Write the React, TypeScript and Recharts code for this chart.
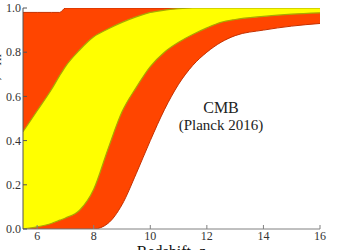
import React from 'react';
import { ComposedChart, Area, XAxis, YAxis, Customized } from 'recharts';

const zValues = [5.5, 6, 6.5, 6.8, 7, 7.5, 8, 8.5, 9, 9.5, 10, 10.5, 11, 11.5, 12, 12.5, 13, 14, 15, 16];
const redHigh = [0.98, 0.98, 0.98, 0.98, 1, 1, 1, 1, 1, 1, 1, 1, 1, 1, 1, 1, 1, 1, 1, 1];
const yellowHigh = [0.44, 0.535, 0.63, 0.695, 0.735, 0.81, 0.87, 0.905, 0.935, 0.96, 0.98, 0.99, 0.997, 1, 1, 1, 1, 1, 1, 1];
const yellowLow = [0, 0.01, 0.025, 0.04, 0.05, 0.085, 0.18, 0.36, 0.53, 0.64, 0.735, 0.8, 0.845, 0.88, 0.91, 0.935, 0.948, 0.962, 0.972, 0.978];
const redLow = [0, 0, 0, 0, 0, 0, 0, 0.025, 0.11, 0.25, 0.4, 0.54, 0.655, 0.74, 0.8, 0.845, 0.875, 0.9, 0.918, 0.93];

const xTicks = [6, 8, 10, 12, 14, 16];
const yTicks = [0, 0.2, 0.4, 0.6, 0.8, 1.0];
const annotationLines = ['CMB', '(Planck 2016)'];
const xLabel = 'Redshift, ';
const xLabelVar = 'z';
const yLabel = 'Neutral fraction, ';

const data = zValues.map((z, i) => ({
  z,
  red: [redLow[i], redHigh[i]],
  yellow: [yellowLow[i], yellowHigh[i]],
}));

const FONT = '"Liberation Serif", "Times New Roman", serif';
const AXIS = '#808080';
const TICK_TEXT = { fontSize: 12, fill: '#333', fontFamily: FONT };

const Overlay = () => (
  <g style={{ fontFamily: FONT }}>
    <text x={221} y={113} textAnchor="middle" fontSize={16} fill="#222" style={{ fontFamily: FONT }}>{annotationLines[0]}</text>
    <text x={221} y={130} textAnchor="middle" fontSize={15} fill="#222" style={{ fontFamily: FONT }}>{annotationLines[1]}</text>
    <text x={171} y={257} textAnchor="middle" fontSize={16} fill="#111" style={{ fontFamily: FONT }}>
      {xLabel}<tspan fontStyle="italic">{xLabelVar}</tspan>
    </text>
    <text x={-1} y={118} textAnchor="middle" fontSize={16} fill="#111" transform="rotate(-90 -1 118)" style={{ fontFamily: FONT }}>
      {yLabel}<tspan fontStyle="italic">x</tspan><tspan fontSize={11} dy={2}>HI</tspan>
    </text>
  </g>
);

const noTick = () => null;

export default function App() {
  return (
    <div style={{ position: 'absolute', left: 0, top: 0, width: 337, height: 250, background: '#fff', fontFamily: FONT }}>
      <ComposedChart width={337} height={250} data={data} margin={{ top: 8, right: 17, bottom: 0, left: 0 }}>
        <XAxis
          xAxisId="b"
          dataKey="z"
          type="number"
          domain={[5.5, 16]}
          ticks={xTicks}
          allowDataOverflow
          height={21}
          tickSize={-4}
          tickMargin={6}
          stroke={AXIS}
          tick={TICK_TEXT}
        />
        <XAxis
          xAxisId="t"
          orientation="top"
          dataKey="z"
          type="number"
          domain={[5.5, 16]}
          ticks={xTicks}
          allowDataOverflow
          height={0}
          tickSize={-4}
          stroke={AXIS}
          tick={noTick}
        />
        <YAxis
          yAxisId="l"
          type="number"
          domain={[0, 1]}
          ticks={yTicks}
          allowDataOverflow
          width={23}
          tickSize={-4}
          tickMargin={6}
          stroke="#555"
          tick={TICK_TEXT}
          tickFormatter={(v: number) => v.toFixed(1)}
        />
        <YAxis
          yAxisId="r"
          orientation="right"
          type="number"
          domain={[0, 1]}
          ticks={yTicks}
          allowDataOverflow
          width={0}
          tickSize={-4}
          stroke={AXIS}
          tick={noTick}
        />
        <Area
          xAxisId="b"
          yAxisId="l"
          type="monotone"
          dataKey="red"
          fill="#ff4500"
          fillOpacity={1}
          stroke="#c43000"
          strokeWidth={1}
          isAnimationActive={false}
        />
        <Area
          xAxisId="b"
          yAxisId="l"
          type="monotone"
          dataKey="yellow"
          fill="#ffff00"
          fillOpacity={1}
          stroke="#a8a800"
          strokeWidth={1.2}
          isAnimationActive={false}
        />
        <Customized component={Overlay} />
      </ComposedChart>
    </div>
  );
}
